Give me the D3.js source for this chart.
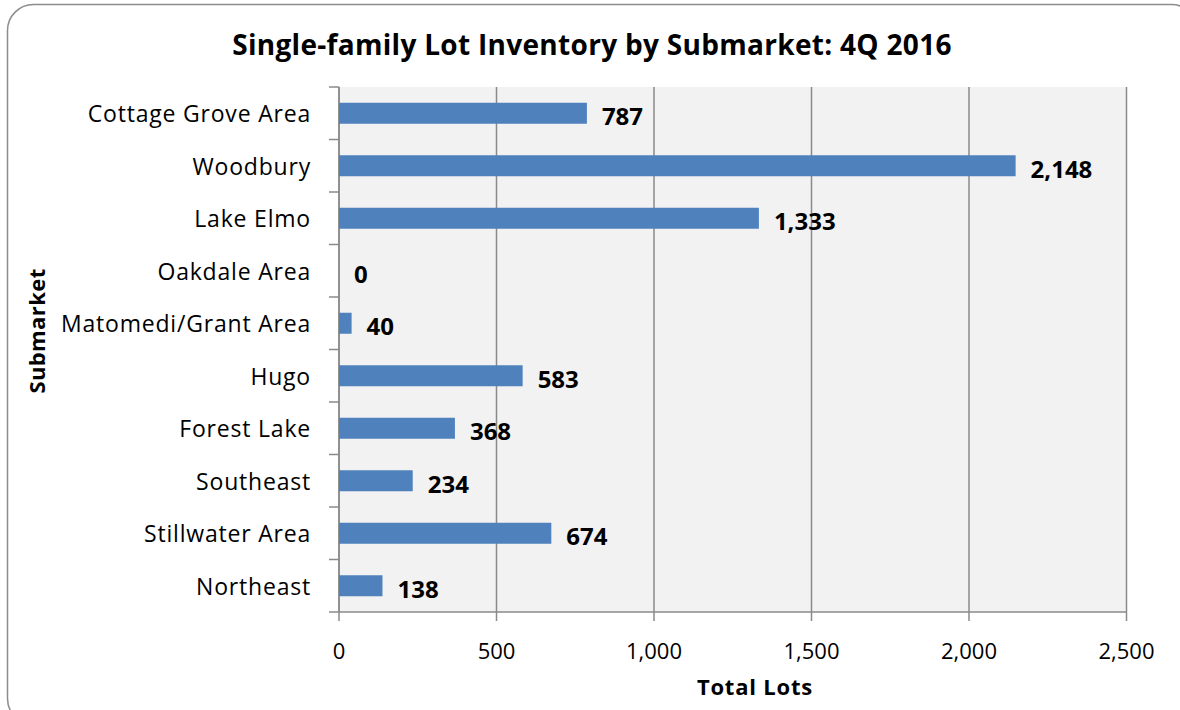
<!DOCTYPE html>
<html>
<head>
<meta charset="utf-8">
<script src="https://cdn.jsdelivr.net/npm/d3@7"></script>
<style>
  body { margin: 0; background: #fff; }
  svg { display: block; }
</style>
</head>
<body>
<svg id="chart" width="1180" height="710"></svg>
<script>
// ========= Data ========= //
const submarkets = ['Cottage Grove Area', 'Woodbury', 'Lake Elmo', 'Oakdale Area', 'Matomedi/Grant Area',
  'Hugo', 'Forest Lake', 'Southeast', 'Stillwater Area', 'Northeast'];
const lots = [787, 2148, 1333, 0, 40, 583, 368, 234, 674, 138];
const xTicks = [0, 500, 1000, 1500, 2000, 2500];

const font = '"Open Sans", "Noto Sans", sans-serif';
const svg = d3.select('#chart');

// ========= Frame ========= //
svg.append('rect')
  .attr('x', 7.5).attr('y', 4.5)
  .attr('width', 1190).attr('height', 720)
  .attr('rx', 26)
  .attr('fill', '#fff')
  .attr('stroke', '#8c8c8c')
  .attr('stroke-width', 1.5);

const plot = { left: 339, right: 1126.5, top: 87, bottom: 612 };

const x = d3.scaleLinear().domain([0, 2500]).range([plot.left, plot.right]);
const y = d3.scaleBand().domain(submarkets).range([plot.top, plot.bottom]).paddingInner(0.6).paddingOuter(0.3);
const yb = d3.scaleBand().domain(submarkets).range([plot.top, plot.bottom]);

// ========= Plot background + grid ========= //
svg.append('rect')
  .attr('x', plot.left).attr('y', plot.top)
  .attr('width', plot.right - plot.left).attr('height', plot.bottom - plot.top)
  .attr('fill', '#f2f2f2');

svg.append('g')
  .selectAll('line')
  .data(xTicks)
  .join('line')
    .attr('x1', d => x(d)).attr('x2', d => x(d))
    .attr('y1', plot.top).attr('y2', plot.bottom + 9)
    .attr('stroke', '#8a8a8a')
    .attr('stroke-width', 1.5);

// y axis: line + category boundary ticks
svg.append('line')
  .attr('x1', plot.left).attr('x2', plot.left)
  .attr('y1', plot.top).attr('y2', plot.bottom)
  .attr('stroke', '#8a8a8a').attr('stroke-width', 1.5);

const bounds = submarkets.map(d => yb(d)).concat([plot.bottom]);
svg.append('g')
  .selectAll('line')
  .data(bounds)
  .join('line')
    .attr('x1', plot.left - 10).attr('x2', plot.left)
    .attr('y1', d => d).attr('y2', d => d)
    .attr('stroke', '#8a8a8a').attr('stroke-width', 1.5);

svg.append('line')
  .attr('x1', plot.left).attr('x2', plot.right)
  .attr('y1', plot.bottom).attr('y2', plot.bottom)
  .attr('stroke', '#8a8a8a').attr('stroke-width', 1.5);

// ========= Bars ========= //
svg.append('g')
  .selectAll('rect')
  .data(submarkets)
  .join('rect')
    .attr('x', x(0))
    .attr('y', d => y(d))
    .attr('width', (d, i) => x(lots[i]) - x(0))
    .attr('height', y.bandwidth())
    .attr('fill', '#4f81bd');

// ========= Labels ========= //
svg.append('g')
  .selectAll('text')
  .data(submarkets)
  .join('text')
    .attr('x', (d, i) => x(lots[i]) + 15)
    .attr('y', d => y(d) + y.bandwidth() / 2 + 12)
    .attr('font-family', font)
    .attr('font-weight', 'bold')
    .attr('font-size', '24px')
    .attr('fill', '#000')
    .text((d, i) => d3.format(',')(lots[i]));

svg.append('g')
  .selectAll('text')
  .data(submarkets)
  .join('text')
    .attr('x', 311)
    .attr('y', d => yb(d) + yb.bandwidth() / 2 + 9)
    .attr('text-anchor', 'end')
    .attr('font-family', font)
    .attr('font-size', '23px')
    .attr('letter-spacing', '0.8px')
    .attr('fill', '#000')
    .text(d => d);

svg.append('g')
  .selectAll('text')
  .data(xTicks)
  .join('text')
    .attr('x', d => x(d))
    .attr('y', 659)
    .attr('text-anchor', 'middle')
    .attr('font-family', font)
    .attr('font-size', '22px')
    .attr('fill', '#000')
    .text(d => d3.format(',')(d));

svg.append('text')
  .attr('x', 592).attr('y', 55)
  .attr('text-anchor', 'middle')
  .attr('font-family', font)
  .attr('font-weight', 'bold')
  .attr('font-size', '28px')
  .attr('letter-spacing', '0.3px')
  .text('Single-family Lot Inventory by Submarket: 4Q 2016');

svg.append('text')
  .attr('x', 755).attr('y', 695)
  .attr('text-anchor', 'middle')
  .attr('font-family', font)
  .attr('font-weight', 'bold')
  .attr('font-size', '22px')
  .attr('letter-spacing', '0.8px')
  .text('Total Lots');

svg.append('text')
  .attr('transform', 'translate(45 331) rotate(-90)')
  .attr('text-anchor', 'middle')
  .attr('font-family', font)
  .attr('font-weight', 'bold')
  .attr('font-size', '22px')
  .attr('letter-spacing', '0.4px')
  .text('Submarket');
</script>
</body>
</html>
